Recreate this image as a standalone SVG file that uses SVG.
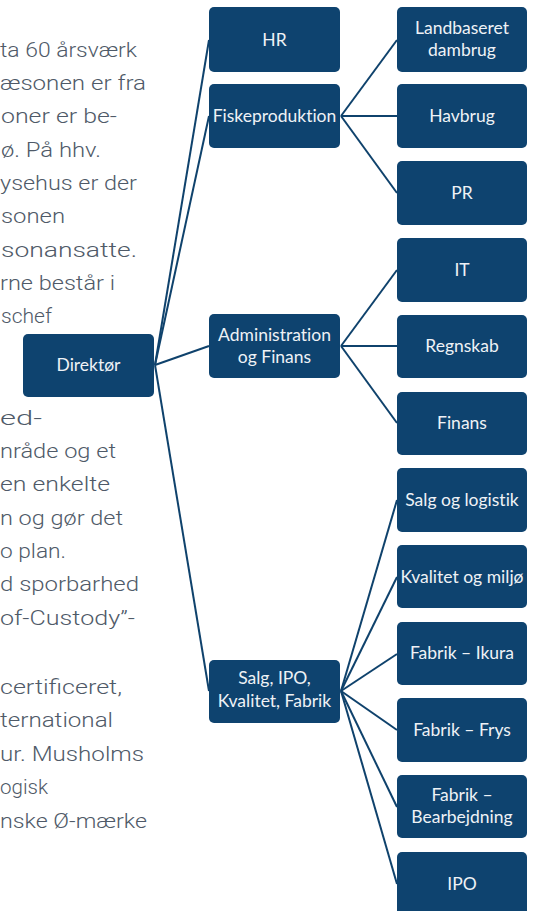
<svg xmlns="http://www.w3.org/2000/svg" width="535" height="911" viewBox="0 0 535 911">
<style>
.bg{font-family:Roboto,"Open Sans",sans-serif;font-size:21px;font-weight:300;fill:#4f5a68}
.box{fill:#0e436f}
.lbl{font-family:Lato,"Liberation Sans",sans-serif;font-size:17.5px;fill:#eef2f6;text-anchor:middle;font-variant-ligatures:none}
.con{stroke:#0f426c;stroke-width:2;fill:none}
</style>
<rect width="535" height="911" fill="#ffffff"/>
<g id="background-text">
<text class="bg" x="0" y="57" textLength="137" lengthAdjust="spacingAndGlyphs">ta 60 årsværk</text>
<text class="bg" x="0" y="90" textLength="146" lengthAdjust="spacingAndGlyphs">æsonen er fra</text>
<text class="bg" x="1" y="123" textLength="116" lengthAdjust="spacingAndGlyphs">oner er be-</text>
<text class="bg" x="1" y="157" textLength="100" lengthAdjust="spacingAndGlyphs">ø. På hhv.</text>
<text class="bg" x="0" y="190" textLength="137" lengthAdjust="spacingAndGlyphs">ysehus er der</text>
<text class="bg" x="1" y="223" textLength="64" lengthAdjust="spacingAndGlyphs">sonen</text>
<text class="bg" x="1" y="257" textLength="136" lengthAdjust="spacingAndGlyphs">sonansatte.</text>
<text class="bg" x="0" y="290" textLength="115" lengthAdjust="spacingAndGlyphs">rne består i</text>
<text class="bg" x="1" y="323" textLength="51" lengthAdjust="spacingAndGlyphs">schef</text>
<text class="bg" x="0" y="425" textLength="42" lengthAdjust="spacingAndGlyphs">ed-</text>
<text class="bg" x="0" y="458" textLength="116" lengthAdjust="spacingAndGlyphs">nråde og et</text>
<text class="bg" x="0" y="491" textLength="110" lengthAdjust="spacingAndGlyphs">en enkelte</text>
<text class="bg" x="0" y="525" textLength="123" lengthAdjust="spacingAndGlyphs">n og gør det</text>
<text class="bg" x="0" y="558" textLength="66" lengthAdjust="spacingAndGlyphs">o plan.</text>
<text class="bg" x="0" y="591" textLength="139" lengthAdjust="spacingAndGlyphs">d sporbarhed</text>
<text class="bg" x="0" y="625" textLength="135" lengthAdjust="spacingAndGlyphs">of-Custody”-</text>
<text class="bg" x="0" y="694" textLength="122" lengthAdjust="spacingAndGlyphs">certificeret,</text>
<text class="bg" x="0" y="727" textLength="113" lengthAdjust="spacingAndGlyphs">ternational</text>
<text class="bg" x="0" y="761" textLength="144" lengthAdjust="spacingAndGlyphs">ur. Musholms</text>
<text class="bg" x="0" y="794" textLength="48" lengthAdjust="spacingAndGlyphs">ogisk</text>
<text class="bg" x="0" y="828" textLength="147" lengthAdjust="spacingAndGlyphs">nske Ø-mærke</text>
</g>
<g id="connectors">
<line class="con" x1="155" y1="365" x2="209" y2="40"/>
<line class="con" x1="155" y1="365" x2="209" y2="116"/>
<line class="con" x1="155" y1="365" x2="209" y2="346"/>
<line class="con" x1="155" y1="365" x2="209" y2="691"/>
<line class="con" x1="341" y1="116" x2="397" y2="40"/>
<line class="con" x1="341" y1="116" x2="397" y2="116"/>
<line class="con" x1="341" y1="116" x2="397" y2="193"/>
<line class="con" x1="341" y1="346" x2="397" y2="270"/>
<line class="con" x1="341" y1="346" x2="397" y2="346"/>
<line class="con" x1="341" y1="346" x2="397" y2="423"/>
<line class="con" x1="341" y1="691" x2="397" y2="500"/>
<line class="con" x1="341" y1="691" x2="397" y2="577"/>
<line class="con" x1="341" y1="691" x2="397" y2="654"/>
<line class="con" x1="341" y1="691" x2="397" y2="730"/>
<line class="con" x1="341" y1="691" x2="397" y2="807"/>
<line class="con" x1="341" y1="691" x2="397" y2="884"/>
</g>
<g id="direktor"><rect class="box" x="23" y="334" width="131" height="63" rx="5"/><text class="lbl" x="88.5" y="371">Direktør</text></g>
<g id="hr"><rect class="box" x="209" y="7" width="131" height="65" rx="5"/><text class="lbl" x="274.5" y="46">HR</text></g>
<g id="fiskeproduktion"><rect class="box" x="209" y="84" width="131" height="64" rx="5"/><text class="lbl" x="274.5" y="122">Fiskeproduktion</text></g>
<g id="administration"><rect class="box" x="209" y="314" width="131" height="64" rx="5"/><text class="lbl" x="274.5" y="341">Administration</text><text class="lbl" x="274.5" y="363">og Finans</text></g>
<g id="salg-ipo"><rect class="box" x="209" y="660" width="131" height="63" rx="5"/><text class="lbl" x="274.5" y="684">Salg, IPO,</text><text class="lbl" x="274.5" y="707">Kvalitet, Fabrik</text></g>
<g id="landbaseret"><rect class="box" x="397" y="7" width="130" height="65" rx="5"/><text class="lbl" x="462" y="34">Landbaseret</text><text class="lbl" x="462" y="56">dambrug</text></g>
<g id="havbrug"><rect class="box" x="397" y="84" width="130" height="64" rx="5"/><text class="lbl" x="462" y="122">Havbrug</text></g>
<g id="pr"><rect class="box" x="397" y="161" width="130" height="64" rx="5"/><text class="lbl" x="462" y="199">PR</text></g>
<g id="it"><rect class="box" x="397" y="238" width="130" height="64" rx="5"/><text class="lbl" x="462" y="276">IT</text></g>
<g id="regnskab"><rect class="box" x="397" y="315" width="130" height="63" rx="5"/><text class="lbl" x="462" y="352">Regnskab</text></g>
<g id="finans"><rect class="box" x="397" y="392" width="130" height="63" rx="5"/><text class="lbl" x="462" y="429">Finans</text></g>
<g id="salg-logistik"><rect class="box" x="397" y="468" width="130" height="64" rx="5"/><text class="lbl" x="462" y="506">Salg og logistik</text></g>
<g id="kvalitet-miljo"><rect class="box" x="397" y="545" width="130" height="63" rx="5"/><text class="lbl" x="462" y="583">Kvalitet og miljø</text></g>
<g id="fabrik-ikura"><rect class="box" x="397" y="622" width="130" height="63" rx="5"/><text class="lbl" x="462" y="659">Fabrik – Ikura</text></g>
<g id="fabrik-frys"><rect class="box" x="397" y="698" width="130" height="64" rx="5"/><text class="lbl" x="462" y="736">Fabrik – Frys</text></g>
<g id="fabrik-bearbejdning"><rect class="box" x="397" y="775" width="130" height="63" rx="5"/><text class="lbl" x="462" y="801">Fabrik –</text><text class="lbl" x="462" y="823">Bearbejdning</text></g>
<g id="ipo"><rect class="box" x="397" y="852" width="130" height="64" rx="5"/><text class="lbl" x="462" y="890">IPO</text></g>
</svg>
